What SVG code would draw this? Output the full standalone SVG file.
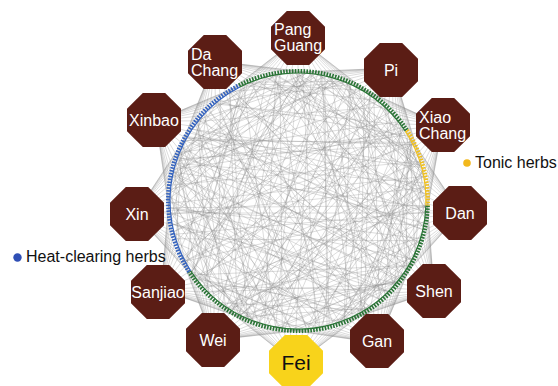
<svg xmlns="http://www.w3.org/2000/svg" width="558" height="386" viewBox="0 0 558 386">
<style>
.e{fill:none;stroke:#8a8a8a;stroke-width:0.5;stroke-opacity:0.55}
.oct{fill:#5b1d15}
.fei{fill:#f8d31b}
.lbl{font-family:"Liberation Sans",Arial,Helvetica,sans-serif;font-size:16px;fill:#ffffff}
.dk{fill:#111111;font-size:21px}
.c{text-anchor:middle}
.leg{font-family:"Liberation Sans",Arial,Helvetica,sans-serif;font-size:16px;fill:#111111}
.tk{fill:none;stroke-width:4;stroke-dasharray:1.6 1.3}
.ln{fill:none;stroke-width:1.2}
.g{stroke:#2a7436}
.b{stroke:#3563be}
.y{stroke:#f0c020}
</style>
<defs>
<path id="oct" d="M-11.2 -27H11.2L27 -11.2V11.2L11.2 27H-11.2L-27 11.2V-11.2Z"/>
<line id="a30" x1="129" y1="0" x2="111.72" y2="64.5"/>
<line id="a35" x1="129" y1="0" x2="105.67" y2="73.99"/>
<line id="a40" x1="129" y1="0" x2="98.82" y2="82.92"/>
<line id="a45" x1="129" y1="0" x2="91.22" y2="91.22"/>
<line id="a50" x1="129" y1="0" x2="82.92" y2="98.82"/>
<line id="a55" x1="129" y1="0" x2="73.99" y2="105.67"/>
<line id="a60" x1="129" y1="0" x2="64.5" y2="111.72"/>
<line id="a65" x1="129" y1="0" x2="54.52" y2="116.91"/>
<line id="a70" x1="129" y1="0" x2="44.12" y2="121.22"/>
<line id="a75" x1="129" y1="0" x2="33.39" y2="124.6"/>
<line id="a80" x1="129" y1="0" x2="22.4" y2="127.04"/>
<line id="a85" x1="129" y1="0" x2="11.24" y2="128.51"/>
<line id="a90" x1="129" y1="0" x2="0" y2="129"/>
<line id="a95" x1="129" y1="0" x2="-11.24" y2="128.51"/>
<line id="a100" x1="129" y1="0" x2="-22.4" y2="127.04"/>
<line id="a105" x1="129" y1="0" x2="-33.39" y2="124.6"/>
<line id="a110" x1="129" y1="0" x2="-44.12" y2="121.22"/>
<line id="a115" x1="129" y1="0" x2="-54.52" y2="116.91"/>
<line id="a120" x1="129" y1="0" x2="-64.5" y2="111.72"/>
<line id="a125" x1="129" y1="0" x2="-73.99" y2="105.67"/>
<line id="a130" x1="129" y1="0" x2="-82.92" y2="98.82"/>
<line id="a135" x1="129" y1="0" x2="-91.22" y2="91.22"/>
<line id="a140" x1="129" y1="0" x2="-98.82" y2="82.92"/>
<line id="a145" x1="129" y1="0" x2="-105.67" y2="73.99"/>
<line id="a150" x1="129" y1="0" x2="-111.72" y2="64.5"/>
<line id="a155" x1="129" y1="0" x2="-116.91" y2="54.52"/>
<line id="a160" x1="129" y1="0" x2="-121.22" y2="44.12"/>
<line id="a165" x1="129" y1="0" x2="-124.6" y2="33.39"/>
<line id="a170" x1="129" y1="0" x2="-127.04" y2="22.4"/>
<line id="a175" x1="129" y1="0" x2="-128.51" y2="11.24"/>
<line id="a180" x1="129" y1="0" x2="-129" y2="0"/>
<path id="fan" d="M163 0L129 0M163 0L128.82 6.75M163 0L128.82 -6.75M163 0L128.29 13.48M163 0L128.29 -13.48M163 0L127.41 20.18M163 0L127.41 -20.18M163 0L126.18 26.82M163 0L126.18 -26.82M163 0L124.6 33.39M163 0L124.6 -33.39M163 0L122.69 39.86M163 0L122.69 -39.86M163 0L120.43 46.23M163 0L120.43 -46.23M163 0L117.85 52.47M163 0L117.85 -52.47M163 0L114.94 58.56M163 0L114.94 -58.56M163 0L111.72 64.5M163 0L111.72 -64.5M163 0L108.19 70.26M163 0L108.19 -70.26M163 0L104.36 75.82M163 0L104.36 -75.82"/>
<g id="B">
<use href="#a35" transform="rotate(12)"/>
<use href="#a150" transform="rotate(27)"/>
<use href="#a95" transform="rotate(44)"/>
<use href="#a170" transform="rotate(61)"/>
<use href="#a65" transform="rotate(80)"/>
<use href="#a125" transform="rotate(93)"/>
<use href="#a45" transform="rotate(108)"/>
<use href="#a180" transform="rotate(121)"/>
<use href="#a110" transform="rotate(137)"/>
<use href="#a75" transform="rotate(150)"/>
<use href="#a160" transform="rotate(166)"/>
<use href="#a30" transform="rotate(181)"/>
<use href="#a135" transform="rotate(194)"/>
<use href="#a85" transform="rotate(207)"/>
<use href="#a175" transform="rotate(223)"/>
<use href="#a55" transform="rotate(238)"/>
<use href="#a115" transform="rotate(251)"/>
<use href="#a145" transform="rotate(266)"/>
<use href="#a70" transform="rotate(279)"/>
<use href="#a100" transform="rotate(293)"/>
<use href="#a40" transform="rotate(306)"/>
<use href="#a165" transform="rotate(318)"/>
<use href="#a90" transform="rotate(333)"/>
<use href="#a130" transform="rotate(347)"/>
<use href="#a60" transform="rotate(3)"/>
<use href="#a155" transform="rotate(71)"/>
<use href="#a105" transform="rotate(128)"/>
<use href="#a50" transform="rotate(172)"/>
<use href="#a140" transform="rotate(214)"/>
<use href="#a80" transform="rotate(259)"/>
<use href="#a120" transform="rotate(301)"/>
<use href="#a170" transform="rotate(342)"/>
<use href="#a95" transform="rotate(18)"/>
<use href="#a155" transform="rotate(187)"/>
<use href="#a65" transform="rotate(230)"/>
<use href="#a125" transform="rotate(357)"/>
<use href="#a115" transform="rotate(55)"/>
<use href="#a145" transform="rotate(100)"/>
<use href="#a85" transform="rotate(283)"/>
<use href="#a135" transform="rotate(146)"/>
</g>
</defs>
<rect width="558" height="386" fill="#ffffff"/>
<g id="connectors" class="e" transform="translate(298 201)">
<use href="#B"/>
<use href="#B" transform="rotate(53)"/>
<use href="#B" transform="rotate(139)"/>
<use href="#B" transform="rotate(211)"/>
<use href="#B" transform="scale(1,-1) rotate(29)"/>
<use href="#B" transform="scale(1,-1) rotate(97)"/>
<use href="#B" transform="scale(1,-1) rotate(181)"/>
<use href="#fan" transform="rotate(-90)"/>
<use href="#fan" transform="rotate(-120.8)"/>
<use href="#fan" transform="rotate(-54.6)"/>
<use href="#fan" transform="rotate(-27.7)"/>
<use href="#fan" transform="rotate(4.2)"/>
<use href="#fan" transform="rotate(33.5)"/>
<use href="#fan" transform="rotate(60.6)"/>
<use href="#fan" transform="rotate(90.7)"/>
<use href="#fan" transform="rotate(121.4)"/>
<use href="#fan" transform="rotate(147)"/>
<use href="#fan" transform="rotate(175.4)"/>
<use href="#fan" transform="rotate(-150.6)"/>
<line x1="-161" y1="12" x2="162" y2="12"/>
</g>
<g id="ring" transform="translate(298 201)">
<path class="ln g" d="M127.92 4.47A128 128 0 0 1 -107.35 69.71M-58.11 -114.05A128 128 0 0 1 107.35 -69.71"/>
<path class="ln b" d="M-107.35 69.71A128 128 0 0 1 -58.11 -114.05"/>
<path class="ln y" d="M107.35 -69.71A128 128 0 0 1 127.92 4.47"/>
<path class="tk g" d="M129.92 4.54A130 130 0 0 1 -109.03 70.8M-59.02 -115.83A130 130 0 0 1 109.03 -70.8"/>
<path class="tk b" d="M-109.03 70.8A130 130 0 0 1 -59.02 -115.83"/>
<path class="tk y" d="M109.03 -70.8A130 130 0 0 1 129.92 4.54"/>
</g>
<g id="n-pangguang" transform="translate(298 38)"><use href="#oct" class="oct"/><text class="lbl" x="-24" y="-3">Pang</text><text class="lbl" x="-24" y="13">Guang</text></g>
<g id="n-dachang" transform="translate(215 62)"><use href="#oct" class="oct"/><text class="lbl" x="-24" y="-2">Da</text><text class="lbl" x="-24" y="14">Chang</text></g>
<g id="n-pi" transform="translate(391 70)"><use href="#oct" class="oct"/><text class="lbl c" x="0" y="6">Pi</text></g>
<g id="n-xiaochang" transform="translate(443 125)"><use href="#oct" class="oct"/><text class="lbl" x="-24" y="-2">Xiao</text><text class="lbl" x="-24" y="14">Chang</text></g>
<g id="n-dan" transform="translate(460 213)"><use href="#oct" class="oct"/><text class="lbl c" x="0" y="6">Dan</text></g>
<g id="n-shen" transform="translate(434 291)"><use href="#oct" class="oct"/><text class="lbl c" x="0" y="6">Shen</text></g>
<g id="n-gan" transform="translate(377 341)"><use href="#oct" class="oct"/><text class="lbl c" x="0" y="6">Gan</text></g>
<g id="n-fei" transform="translate(296 362)"><use href="#oct" class="fei"/><text class="lbl dk c" x="0" y="8">Fei</text></g>
<g id="n-wei" transform="translate(213 340)"><use href="#oct" class="oct"/><text class="lbl c" x="0" y="6">Wei</text></g>
<g id="n-sanjiao" transform="translate(158 292)"><use href="#oct" class="oct"/><text class="lbl c" x="0" y="6">Sanjiao</text></g>
<g id="n-xin" transform="translate(137 214)"><use href="#oct" class="oct"/><text class="lbl c" x="0" y="6">Xin</text></g>
<g id="n-xinbao" transform="translate(154 120)"><use href="#oct" class="oct"/><text class="lbl c" x="0" y="6">Xinbao</text></g>
<g id="legend-tonic"><circle cx="467" cy="163" r="3.8" fill="#f2b81c"/><text class="leg" x="475" y="168">Tonic herbs</text></g>
<g id="legend-heat"><circle cx="17.5" cy="257.5" r="4.2" fill="#2f4fb5"/><text class="leg" x="26" y="262">Heat-clearing herbs</text></g>
</svg>
